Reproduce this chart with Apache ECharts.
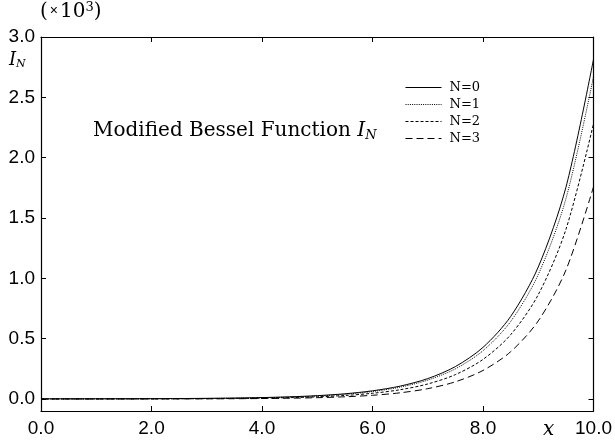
<!DOCTYPE html>
<html>
<head>
<meta charset="utf-8">
<script src="https://cdn.jsdelivr.net/npm/echarts@6/dist/echarts.min.js"></script>
<style>
  html, body { margin: 0; padding: 0; background: #fff; }
  #chart { width: 615px; height: 441px; }
</style>
</head>
<body>
<div id="chart"></div>
<script>
// x samples and Bessel values
var xs = [0, 0.5, 1, 1.5, 2, 2.5, 3, 3.5, 4, 4.5, 5, 5.5, 6, 6.5, 7, 7.5, 8, 8.5, 9, 9.5, 10];
var i0 = [1, 1.0635, 1.2661, 1.6467, 2.2796, 3.2898, 4.8808, 7.3782, 11.302, 17.481, 27.240, 42.695, 67.234, 106.29, 168.59, 268.16, 427.56, 683.16, 1093.6, 1753.4, 2815.7];
var i1 = [0, 0.2579, 0.5652, 0.9817, 1.5906, 2.5167, 3.9534, 6.2058, 9.7595, 15.389, 24.336, 38.587, 61.342, 97.734, 156.04, 249.58, 399.87, 641.62, 1030.9, 1658.4, 2671.0];
var i2 = [0, 0.0319, 0.1357, 0.3378, 0.6889, 1.2765, 2.2452, 3.8320, 6.4222, 10.642, 17.506, 28.663, 46.787, 76.221, 124.01, 201.61, 327.60, 532.19, 864.50, 1404.3, 2281.5];
var i3 = [0, 0.0026, 0.0222, 0.0809, 0.2128, 0.4743, 0.9598, 1.8264, 3.3373, 5.9300, 10.331, 17.741, 30.151, 50.829, 85.176, 142.06, 236.08, 391.18, 646.69, 1067.2, 1758.4];
var names = ['N=0', 'N=1', 'N=2', 'N=3'];
var xTicks = [0, 2, 4, 6, 8, 10];
var yTicks = [0, 500, 1000, 1500, 2000, 2500, 3000];

function pairs(ys) {
  return xs.map(function (x, i) { return [x, ys[i]]; });
}

var chart = echarts.init(document.getElementById('chart'));
var serif = '"DejaVu Serif", "Liberation Serif", serif';
var sans = '"Liberation Sans", Arial, sans-serif';
var dashes = ['solid', [1, 1.2], [3, 2], [7, 4]];

var baseX = {
  type: 'value', min: 0, max: 10,
  axisLine: { onZero: false, lineStyle: { color: '#000', width: 1.2 } },
  splitLine: { show: false }
};
var baseY = {
  type: 'value', min: -100, max: 3000,
  axisLine: { onZero: false, lineStyle: { color: '#000', width: 1.2 } },
  splitLine: { show: false }
};

chart.setOption({
  animation: false,
  backgroundColor: '#fff',
  grid: { left: 41, right: 12, top: 37, bottom: 30 },
  legend: {
    orient: 'vertical',
    left: 400, top: 76,
    itemWidth: 36, itemHeight: 12, itemGap: 4,
    data: names,
    itemStyle: { opacity: 0 },
    lineStyle: { width: 1 },
    textStyle: { fontFamily: serif, fontSize: 13, color: '#000', padding: [0, 0, 0, 3] }
  },
  xAxis: [
    Object.assign({}, baseX, {
      position: 'bottom',
      axisTick: { inside: true, length: 5, customValues: xTicks, lineStyle: { color: '#000' } },
      axisLabel: {
        customValues: xTicks, margin: 8, color: '#000', fontFamily: sans, fontSize: 19,
        formatter: function (v) { return v.toFixed(1); }
      }
    }),
    Object.assign({}, baseX, {
      position: 'top',
      axisTick: { inside: true, length: 5, customValues: xTicks, lineStyle: { color: '#000' } },
      axisLabel: { show: false }
    })
  ],
  yAxis: [
    Object.assign({}, baseY, {
      position: 'left',
      axisTick: { inside: true, length: 5, customValues: yTicks, lineStyle: { color: '#000' } },
      axisLabel: {
        customValues: yTicks, margin: 6, color: '#000', fontFamily: sans, fontSize: 19,
        formatter: function (v) { return (v / 1000).toFixed(1); }
      }
    }),
    Object.assign({}, baseY, {
      position: 'right',
      axisTick: { inside: true, length: 5, customValues: yTicks, lineStyle: { color: '#000' } },
      axisLabel: { show: false }
    })
  ],
  graphic: [
    {
      type: 'text', left: 40, top: 1,
      style: {
        text: '{p|(}{t|×}{p|10}{s|3}{p|)}',
        rich: {
          p: { fontFamily: serif, fontSize: 20, fill: '#000' },
          t: { fontFamily: sans, fontSize: 14, fill: '#000', padding: [0, 2, 0, 2] },
          s: { fontFamily: serif, fontSize: 13, fill: '#000', verticalAlign: 'top', padding: [0, 0, 8, 0] }
        }
      }
    },
    {
      type: 'text', left: 9, top: 51,
      style: {
        text: '{i|I}{n|N}',
        rich: {
          i: { fontFamily: serif, fontStyle: 'italic', fontSize: 18, fill: '#000' },
          n: { fontFamily: serif, fontStyle: 'italic', fontSize: 11, fill: '#000', verticalAlign: 'bottom', padding: [8, 0, 0, 0] }
        }
      }
    },
    {
      type: 'text', left: 93, top: 121,
      style: {
        text: '{a|Modified Bessel Function }{i|I}{n|N}',
        rich: {
          a: { fontFamily: serif, fontSize: 20, fill: '#000' },
          i: { fontFamily: serif, fontStyle: 'italic', fontSize: 20, fill: '#000' },
          n: { fontFamily: serif, fontStyle: 'italic', fontSize: 13, fill: '#000', verticalAlign: 'bottom', padding: [9, 0, 0, 0] }
        }
      }
    },
    {
      type: 'text', left: 543, top: 420,
      style: { text: 'x', fontFamily: serif, fontStyle: 'italic', fontSize: 20, fill: '#000' }
    }
  ],
  series: [i0, i1, i2, i3].map(function (ys, k) {
    return {
      name: names[k],
      type: 'line',
      data: pairs(ys),
      smooth: 0.3,
      symbol: 'none',
      color: '#000',
      lineStyle: { color: '#000', width: 1, type: dashes[k] }
    };
  })
});
</script>
</body>
</html>
